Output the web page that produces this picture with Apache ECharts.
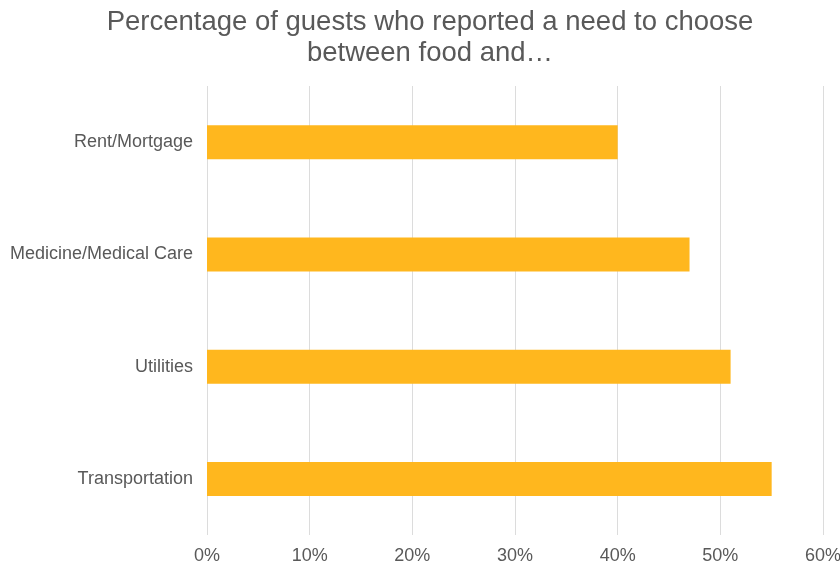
<!DOCTYPE html>
<html>
<head>
    <meta charset="UTF-8">
    <script src="https://cdn.jsdelivr.net/npm/echarts@6/dist/echarts.min.js"></script>
    <style>
        html, body { margin: 0; padding: 0; background: #fff; }
        #chart { width: 840px; height: 567px; }
    </style>
</head>
<body>
<div id="chart"></div>
<script>
    // categories top to bottom
    const categories = ['Rent/Mortgage', 'Medicine/Medical Care', 'Utilities', 'Transportation'];
    const percentValues = [40, 47, 51, 55];
    const axisTicks = [0, 10, 20, 30, 40, 50, 60];

    var chart = echarts.init(document.getElementById('chart'));
    chart.setOption({
        animation: false,
        textStyle: {fontFamily: 'Liberation Sans, Arial, sans-serif'},
        title: {
            text: 'Percentage of guests who reported a need to choose\nbetween food and\u2026',
            left: 425,
            top: 2,
            textAlign: 'center',
            textStyle: {
                fontSize: 27.5,
                fontWeight: 'normal',
                color: '#595959',
                lineHeight: 31,
                fontFamily: 'Liberation Sans, Arial, sans-serif'
            }
        },
        grid: {left: 207, right: 17, top: 86, bottom: 32, containLabel: false, outerBoundsMode: 'none'},
        xAxis: {
            type: 'value',
            min: axisTicks[0],
            max: axisTicks[axisTicks.length - 1],
            interval: 10,
            axisLine: {show: false},
            axisTick: {show: false},
            axisLabel: {
                formatter: '{value}%',
                color: '#595959',
                fontSize: 18,
                margin: 12
            },
            splitLine: {lineStyle: {color: '#dcdcdc', width: 1}}
        },
        yAxis: {
            type: 'category',
            data: categories,
            inverse: true,
            axisLine: {show: false},
            axisTick: {show: false},
            axisLabel: {color: '#595959', fontSize: 18, margin: 14}
        },
        series: [{
            type: 'bar',
            data: percentValues,
            barWidth: 34,
            itemStyle: {color: '#FFB71E'}
        }]
    });
</script>
</body>
</html>
